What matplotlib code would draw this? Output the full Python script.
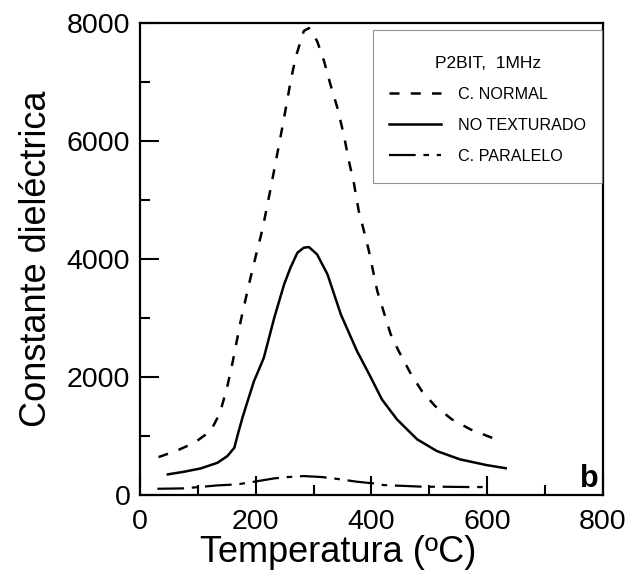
import matplotlib
matplotlib.use("Agg")
import matplotlib.pyplot as plt
from matplotlib.ticker import MultipleLocator
from matplotlib.offsetbox import DrawingArea

plt.rcParams['font.family'] = ['Liberation Sans', 'DejaVu Sans']

# C. NORMAL (dashed)
t_normal = [32, 62, 94, 122, 137, 143, 151, 160, 174, 188, 200, 209, 214, 226, 234, 243, 249, 255,
            260, 269, 283, 292, 306, 318, 329, 341, 352, 361, 370, 378, 387, 395, 410, 433, 447,
            467, 487, 510, 539, 571, 611]
v_normal = [644, 746, 887, 1085, 1367, 1560, 1847, 2250, 2950, 3560, 4050, 4400, 4620, 5209, 5620,
            6080, 6395, 6720, 7000, 7420, 7864, 7915, 7695, 7356, 6961, 6565, 6113, 5661, 5266, 4813,
            4475, 4160, 3460, 2730, 2441, 2073, 1763, 1508, 1283, 1113, 961]

# NO TEXTURADO (solid)
t_solid = [48, 76, 105, 134, 151, 163, 169, 177, 186, 197, 203, 214, 232, 249, 260, 272, 283, 292,
           306, 324, 347, 375, 398, 418, 444, 479, 513, 553, 599, 632]
v_solid = [351, 395, 452, 548, 661, 802, 1028, 1310, 1593, 1932, 2070, 2328, 3005, 3571, 3853, 4107,
           4192, 4203, 4079, 3740, 3063, 2440, 2010, 1622, 1283, 944, 746, 605, 508, 455]

# C. PARALELO (long-short dash)
t_par = [30, 74, 102, 134, 168, 197, 232, 255, 283, 315, 347, 375, 410, 421, 462, 490, 525, 571, 605]
v_par = [107, 113, 136, 164, 181, 226, 283, 305, 322, 305, 266, 226, 192, 169, 153, 141, 141, 136, 136]

fig = plt.figure(figsize=(6.35, 5.75), dpi=100)
ax = fig.add_axes([0.2205, 0.139, 0.729, 0.821])

ax.plot(t_normal, v_normal, color='black', lw=1.8, dashes=(4, 4.5), label='C. NORMAL')
ax.plot(t_solid, v_solid, color='black', lw=1.8, label='NO TEXTURADO')
ax.plot(t_par, v_par, color='black', lw=1.6, dashes=(12, 3.5, 2.5, 3.5), label='C. PARALELO')

ax.set_xlim(0, 800)
ax.set_ylim(0, 8000)
ax.xaxis.set_major_locator(MultipleLocator(200))
ax.xaxis.set_minor_locator(MultipleLocator(100))
ax.yaxis.set_major_locator(MultipleLocator(2000))
ax.yaxis.set_minor_locator(MultipleLocator(1000))
ax.tick_params(which='major', direction='in', length=14, width=1.5, labelsize=20.5,
               top=False, right=False)
ax.tick_params(axis='x', which='major', pad=10)
ax.tick_params(axis='y', which='major', pad=7)
ax.tick_params(which='minor', direction='in', length=7, width=1.5, top=False, right=False)
for s in ax.spines.values():
    s.set_linewidth(1.6)

ax.set_xlabel('Temperatura (ºC)', fontsize=26)
ax.xaxis.set_label_coords(0.428, -0.084)
ax.set_ylabel('Constante dieléctrica', fontsize=26, labelpad=9)

leg = ax.legend(loc='upper right', bbox_to_anchor=(0.999, 0.985), title='P2BIT,  1MHz',
                fontsize=11.6, title_fontsize=12.5, frameon=True, fancybox=False,
                edgecolor='#777777', handlelength=3.2, handletextpad=1.1,
                labelspacing=1.0, borderpad=1.0, borderaxespad=0)
leg.get_frame().set_linewidth(0.8)
try:
    box = leg._legend_box
    title_box, handle_box = box._children[0], box._children[1]
    box._children = [DrawingArea(1, 7.2), title_box, DrawingArea(1, 11.3), handle_box,
                     DrawingArea(1, 2.2)]
    box.sep = 0
except Exception:
    leg._legend_box.sep = 12

ax.text(777, 270, 'b', fontsize=22, fontweight='bold', ha='center', va='center')

fig.savefig('out.png', dpi=100)
